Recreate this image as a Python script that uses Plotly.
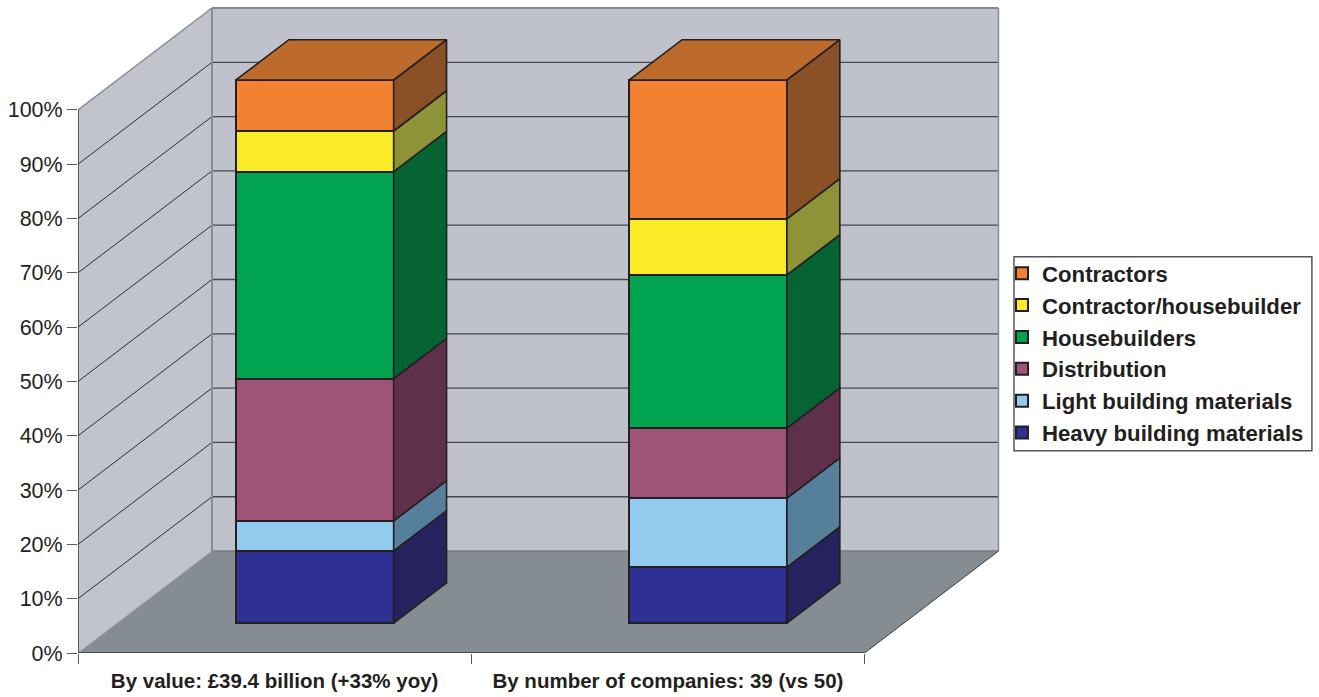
import plotly.graph_objects as go

# Share of UK construction sector, by value and by number of companies (%)
categories = ["By value: £39.4 billion (+33% yoy)", "By number of companies: 39 (vs 50)"]
series_names = [
    "Heavy building materials",
    "Light building materials",
    "Distribution",
    "Housebuilders",
    "Contractor/housebuilder",
    "Contractors",
]
by_value = [13.3, 5.5, 26.2, 38.1, 7.5, 9.4]
by_companies = [10.3, 12.7, 12.9, 28.2, 10.3, 25.6]

front_colors = ["#2E3191", "#92CBEE", "#A05378", "#00A450", "#F9EB25", "#F28232"]
side_colors = ["#27235E", "#567F9C", "#5F304C", "#066334", "#8E9338", "#8A5126"]
top_color = "#BD6B2C"
outline = "#231F20"
back_wall = "#BFC2CB"
side_wall = "#C1C4CD"
floor_color = "#858D93"
edge_gray = "#868C93"

y_ticks = list(range(0, 101, 10))

# Oblique projection: depth 0 is the front plane, depth 1 the back wall
SKEW_X = 0.3406  # category units per full depth
SKEW_Y = 18.77   # percent units per full depth
BAR_FRONT = 0.294
BAR_DEPTH = 0.395
BAR_WIDTH = 0.401
BAR_NUDGE = 0.002  # columns sit a hair right of the category centre


def project(x, y, d):
    return x + d * SKEW_X, y + d * SKEW_Y


def polygon(points):
    xs, ys = zip(*points)
    return list(xs) + [xs[0]], list(ys) + [ys[0]]


def path(points):
    return "M" + " L".join(f"{x},{y}" for x, y in points) + " Z"


n_cat = len(categories)
x_right = project(n_cat, 0, 1)
shapes = []

# Floor and walls sit below the bars
floor = [project(0, 0, 0), project(n_cat, 0, 0), project(n_cat, 0, 1), project(0, 0, 1)]
left = [project(0, 0, 0), project(0, 0, 1), project(0, 100, 1), project(0, 100, 0)]
back = [project(0, 0, 1), project(n_cat, 0, 1), project(n_cat, 100, 1), project(0, 100, 1)]
shapes.append(dict(type="path", path=path(back), fillcolor=back_wall, line=dict(width=0), layer="below"))
shapes.append(dict(type="path", path=path(left), fillcolor=side_wall, line=dict(width=0), layer="below"))
shapes.append(dict(type="path", path=path(floor), fillcolor=floor_color, line=dict(width=0), layer="below"))


def seg(a, b, color, width):
    shapes.append(dict(type="line", x0=a[0], y0=a[1], x1=b[0], y1=b[1], layer="below",
                       line=dict(color=color, width=width)))


# Grid lines run along the left wall and across the back wall
for v in y_ticks[1:-1]:
    seg(project(0, v, 0), project(0, v, 1), "#2E2E30", 1)
    seg(project(0, v, 1), project(n_cat, v, 1), "#47484C", 1.3)

# Wall edges
seg(project(0, 100, 0), project(0, 100, 1), edge_gray, 1.5)
seg(project(0, 100, 1), project(n_cat, 100, 1), edge_gray, 2)
seg(project(n_cat, 100, 1), project(n_cat, 0, 1), edge_gray, 1.5)
seg(project(0, 100, 1), project(0, 0, 1), edge_gray, 2)
seg(project(0, 0, 1), project(n_cat, 0, 1), "#767C83", 1.5)
seg(project(0, 0, 0), project(0, 0, 1), "#9AA0A6", 1)

fig = go.Figure()

columns = [by_value, by_companies]
tick_centers = [0.5 + i for i in range(n_cat)]
centers = [c + BAR_NUDGE for c in tick_centers]
offset = project(0, 0, BAR_FRONT)

# Front faces of the stacked columns; top segment first so the legend reads downward
for s in reversed(range(len(series_names))):
    name = series_names[s]
    values = [col[s] for col in columns]
    bases = [sum(col[:s]) + offset[1] for col in columns]
    fig.add_trace(go.Bar(
        x=[c + offset[0] for c in centers], y=values, base=bases, width=BAR_WIDTH,
        name=name,
        marker=dict(color=front_colors[s], line=dict(color=outline, width=2)),
        hovertemplate=name + ": %{y}%<extra></extra>",
    ))

# Side faces of each segment
for s, name in enumerate(series_names):
    xs, ys = [], []
    for col, c in zip(columns, centers):
        low = sum(col[:s])
        high = low + col[s]
        edge = c + BAR_WIDTH / 2
        px, py = polygon([
            project(edge, low, BAR_FRONT),
            project(edge, low, BAR_FRONT + BAR_DEPTH),
            project(edge, high, BAR_FRONT + BAR_DEPTH),
            project(edge, high, BAR_FRONT),
        ])
        xs += px + [None]
        ys += py + [None]
    fig.add_trace(go.Scatter(
        x=xs, y=ys, mode="lines", fill="toself", fillcolor=side_colors[s],
        line=dict(color=outline, width=1.6), showlegend=False, hoverinfo="skip",
    ))

# Top faces
xs, ys = [], []
for col, c in zip(columns, centers):
    total = sum(col)
    px, py = polygon([
        project(c - BAR_WIDTH / 2, total, BAR_FRONT),
        project(c + BAR_WIDTH / 2, total, BAR_FRONT),
        project(c + BAR_WIDTH / 2, total, BAR_FRONT + BAR_DEPTH),
        project(c - BAR_WIDTH / 2, total, BAR_FRONT + BAR_DEPTH),
    ])
    xs += px + [None]
    ys += py + [None]
fig.add_trace(go.Scatter(
    x=xs, y=ys, mode="lines", fill="toself", fillcolor=top_color,
    line=dict(color=outline, width=1.6), showlegend=False, hoverinfo="skip",
))

# Axis lines stop at 100% and at the last category, so they are drawn as traces
for ax, ay, color, width in [
    ([0, 0], [0, 100], "#3A3A3C", 1.5),
    ([0, n_cat], [0, 0], "#3A3A3C", 1.5),
    ([n_cat, x_right[0]], [0, x_right[1]], "#3A3A3C", 1),
]:
    fig.add_trace(go.Scatter(x=ax, y=ay, mode="lines", line=dict(color=color, width=width),
                             showlegend=False, hoverinfo="skip", cliponaxis=False))

# Plot-area geometry in pixels
WIDTH, HEIGHT = 1319, 697
LEFT, BOTTOM, TOP, RIGHT_EDGE = 77.7, 43.5, 5, 1003
PX_PER_CAT = 393.4
PX_PER_PCT = 5.435
plot_w = RIGHT_EDGE - LEFT
plot_h = HEIGHT - BOTTOM - TOP

# Legend frame: the entries need less padding than the built-in border allows
BOX_LEFT, BOX_TOP, BOX_RIGHT, BOX_BOTTOM = 1014, 257, 1312, 451
shapes.append(dict(type="rect", xref="paper", yref="paper", layer="above",
                   x0=(BOX_LEFT - LEFT) / plot_w, x1=(BOX_RIGHT - LEFT) / plot_w,
                   y0=1 - (BOX_BOTTOM - TOP) / plot_h, y1=1 - (BOX_TOP - TOP) / plot_h,
                   line=dict(color="#55565A", width=1.5)))

fig.update_layout(
    width=WIDTH, height=HEIGHT,
    margin=dict(l=LEFT, r=WIDTH - RIGHT_EDGE, t=TOP, b=BOTTOM, autoexpand=False),
    paper_bgcolor="white", plot_bgcolor="white",
    barmode="overlay",
    bargap=0,
    shapes=shapes,
    font=dict(family="Liberation Sans, Arial, sans-serif", color=outline),
    xaxis=dict(
        range=[0, plot_w / PX_PER_CAT],
        tickmode="array", tickvals=tick_centers, ticktext=categories,
        ticks="", showgrid=False, zeroline=False, showline=False,
        tickfont=dict(size=20.5, family="Liberation Sans, Arial, sans-serif", weight="bold"),
        ticklabelstandoff=13,
        minor=dict(tickmode="array", tickvals=list(range(n_cat + 1)), ticks="outside",
                   ticklen=10, tickwidth=1.3, tickcolor="#58595B", showgrid=False),
        fixedrange=True,
    ),
    yaxis=dict(
        range=[0, plot_h / PX_PER_PCT],
        tickmode="array", tickvals=y_ticks, ticktext=[f"{v}%" for v in y_ticks],
        ticks="outside", ticklen=10, tickwidth=1.3, tickcolor="#58595B",
        tickfont=dict(size=21.5),
        showgrid=False, zeroline=False, showline=False, fixedrange=True,
    ),
    legend=dict(
        x=(BOX_LEFT - LEFT) / plot_w, xanchor="left",
        y=1 - (BOX_TOP - 4.5 - TOP) / plot_h, yanchor="top",
        traceorder="normal",
        bgcolor="rgba(0,0,0,0)", borderwidth=0,
        indentation=-12,
        font=dict(size=22.2, weight="bold", color=outline),
    ),
)

fig.write_html("out.html", config=dict(displayModeBar=False))
